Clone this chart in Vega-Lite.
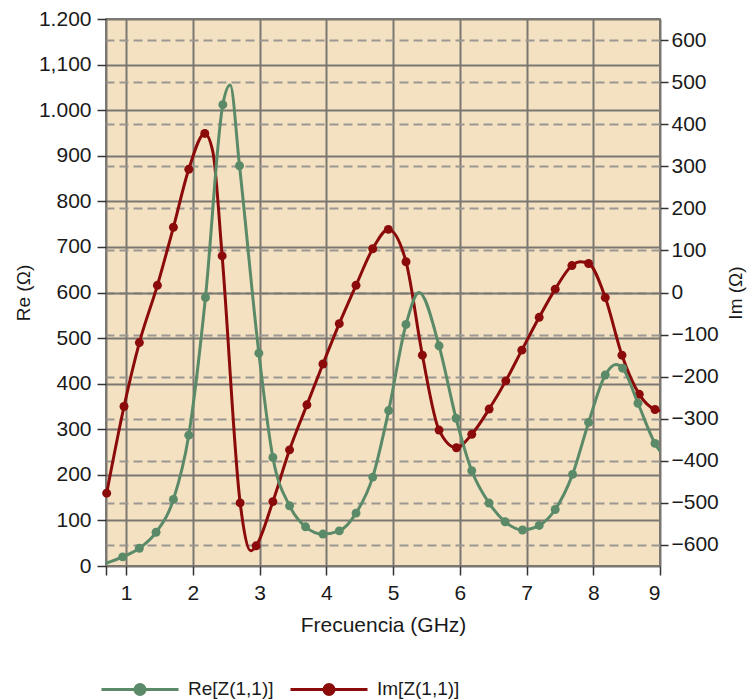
{
  "$schema": "https://vega.github.io/schema/vega-lite/v6.json",
  "width": 554,
  "height": 547,
  "autosize": {"type": "none"},
  "padding": {"left": 106, "top": 19, "right": 88, "bottom": 133},
  "background": "white",
  "config": {
    "font": "Liberation Sans",
    "view": {"fill": "#F4E1C2", "stroke": "#555555", "strokeWidth": 1.5},
    "axis": {
      "labelFont": "Liberation Sans",
      "labelFontSize": 21,
      "labelColor": "#1a1a1a",
      "titleFont": "Liberation Sans",
      "titleFontWeight": "normal",
      "titleColor": "#1a1a1a",
      "tickColor": "#333333",
      "tickWidth": 1.5,
      "tickSize": 9,
      "domain": false
    },
    "legend": {
      "labelFont": "Liberation Sans"
    }
  },
  "data": {
    "values": [
      {"s": "Re[Z(1,1)]", "f": 0.7, "v": 6, "m": 0},
      {"s": "Re[Z(1,1)]", "f": 0.95, "v": 20, "m": 1},
      {"s": "Re[Z(1,1)]", "f": 1.2, "v": 39, "m": 1},
      {"s": "Re[Z(1,1)]", "f": 1.45, "v": 74, "m": 1},
      {"s": "Re[Z(1,1)]", "f": 1.71, "v": 146, "m": 1},
      {"s": "Re[Z(1,1)]", "f": 1.94, "v": 287, "m": 1},
      {"s": "Re[Z(1,1)]", "f": 2.19, "v": 589, "m": 1},
      {"s": "Re[Z(1,1)]", "f": 2.45, "v": 1012, "m": 1},
      {"s": "Re[Z(1,1)]", "f": 2.56, "v": 1055, "m": 0},
      {"s": "Re[Z(1,1)]", "f": 2.7, "v": 878, "m": 1},
      {"s": "Re[Z(1,1)]", "f": 2.99, "v": 467, "m": 1},
      {"s": "Re[Z(1,1)]", "f": 3.2, "v": 238, "m": 1},
      {"s": "Re[Z(1,1)]", "f": 3.45, "v": 132, "m": 1},
      {"s": "Re[Z(1,1)]", "f": 3.69, "v": 86, "m": 1},
      {"s": "Re[Z(1,1)]", "f": 3.95, "v": 70, "m": 1},
      {"s": "Re[Z(1,1)]", "f": 4.195, "v": 77, "m": 1},
      {"s": "Re[Z(1,1)]", "f": 4.446, "v": 116, "m": 1},
      {"s": "Re[Z(1,1)]", "f": 4.696, "v": 195, "m": 1},
      {"s": "Re[Z(1,1)]", "f": 4.935, "v": 341, "m": 1},
      {"s": "Re[Z(1,1)]", "f": 5.195, "v": 530, "m": 1},
      {"s": "Re[Z(1,1)]", "f": 5.39, "v": 600, "m": 0},
      {"s": "Re[Z(1,1)]", "f": 5.69, "v": 483, "m": 1},
      {"s": "Re[Z(1,1)]", "f": 5.944, "v": 324, "m": 1},
      {"s": "Re[Z(1,1)]", "f": 6.18, "v": 209, "m": 1},
      {"s": "Re[Z(1,1)]", "f": 6.44, "v": 138, "m": 1},
      {"s": "Re[Z(1,1)]", "f": 6.68, "v": 97, "m": 1},
      {"s": "Re[Z(1,1)]", "f": 6.94, "v": 79, "m": 1},
      {"s": "Re[Z(1,1)]", "f": 7.19, "v": 89, "m": 1},
      {"s": "Re[Z(1,1)]", "f": 7.43, "v": 124, "m": 1},
      {"s": "Re[Z(1,1)]", "f": 7.69, "v": 201, "m": 1},
      {"s": "Re[Z(1,1)]", "f": 7.93, "v": 315, "m": 1},
      {"s": "Re[Z(1,1)]", "f": 8.18, "v": 419, "m": 1},
      {"s": "Re[Z(1,1)]", "f": 8.34, "v": 442, "m": 0},
      {"s": "Re[Z(1,1)]", "f": 8.44, "v": 434, "m": 1},
      {"s": "Re[Z(1,1)]", "f": 8.67, "v": 357, "m": 1},
      {"s": "Re[Z(1,1)]", "f": 8.925, "v": 269, "m": 1},
      {"s": "Re[Z(1,1)]", "f": 9.0, "v": 252, "m": 0},
      {"s": "Im[Z(1,1)]", "f": 0.71, "v": -477, "m": 1},
      {"s": "Im[Z(1,1)]", "f": 0.97, "v": -271, "m": 1},
      {"s": "Im[Z(1,1)]", "f": 1.2, "v": -119, "m": 1},
      {"s": "Im[Z(1,1)]", "f": 1.47, "v": 17, "m": 1},
      {"s": "Im[Z(1,1)]", "f": 1.71, "v": 155, "m": 1},
      {"s": "Im[Z(1,1)]", "f": 1.94, "v": 293, "m": 1},
      {"s": "Im[Z(1,1)]", "f": 2.18, "v": 378, "m": 1},
      {"s": "Im[Z(1,1)]", "f": 2.3, "v": 335, "m": 0},
      {"s": "Im[Z(1,1)]", "f": 2.44, "v": 87, "m": 1},
      {"s": "Im[Z(1,1)]", "f": 2.71, "v": -500, "m": 1},
      {"s": "Im[Z(1,1)]", "f": 2.87, "v": -614, "m": 0},
      {"s": "Im[Z(1,1)]", "f": 2.95, "v": -602, "m": 1},
      {"s": "Im[Z(1,1)]", "f": 3.2, "v": -497, "m": 1},
      {"s": "Im[Z(1,1)]", "f": 3.45, "v": -374, "m": 1},
      {"s": "Im[Z(1,1)]", "f": 3.71, "v": -267, "m": 1},
      {"s": "Im[Z(1,1)]", "f": 3.95, "v": -170, "m": 1},
      {"s": "Im[Z(1,1)]", "f": 4.195, "v": -74, "m": 1},
      {"s": "Im[Z(1,1)]", "f": 4.446, "v": 17, "m": 1},
      {"s": "Im[Z(1,1)]", "f": 4.696, "v": 104, "m": 1},
      {"s": "Im[Z(1,1)]", "f": 4.93, "v": 150, "m": 1},
      {"s": "Im[Z(1,1)]", "f": 5.195, "v": 73, "m": 1},
      {"s": "Im[Z(1,1)]", "f": 5.44, "v": -149, "m": 1},
      {"s": "Im[Z(1,1)]", "f": 5.69, "v": -327, "m": 1},
      {"s": "Im[Z(1,1)]", "f": 5.95, "v": -369, "m": 1},
      {"s": "Im[Z(1,1)]", "f": 6.18, "v": -337, "m": 1},
      {"s": "Im[Z(1,1)]", "f": 6.44, "v": -277, "m": 1},
      {"s": "Im[Z(1,1)]", "f": 6.69, "v": -210, "m": 1},
      {"s": "Im[Z(1,1)]", "f": 6.93, "v": -137, "m": 1},
      {"s": "Im[Z(1,1)]", "f": 7.19, "v": -59, "m": 1},
      {"s": "Im[Z(1,1)]", "f": 7.43, "v": 8, "m": 1},
      {"s": "Im[Z(1,1)]", "f": 7.68, "v": 64, "m": 1},
      {"s": "Im[Z(1,1)]", "f": 7.81, "v": 73, "m": 0},
      {"s": "Im[Z(1,1)]", "f": 7.93, "v": 69, "m": 1},
      {"s": "Im[Z(1,1)]", "f": 8.18, "v": -12, "m": 1},
      {"s": "Im[Z(1,1)]", "f": 8.43, "v": -149, "m": 1},
      {"s": "Im[Z(1,1)]", "f": 8.69, "v": -242, "m": 1},
      {"s": "Im[Z(1,1)]", "f": 8.925, "v": -278, "m": 1},
      {"s": "Im[Z(1,1)]", "f": 9.0, "v": -281, "m": 0}
    ]
  },
  "layer": [
    {
      "transform": [{"filter": "datum.s == 'Im[Z(1,1)]'"}],
      "encoding": {
        "x": {
          "field": "f", "type": "quantitative",
          "scale": {"domain": [0.7, 9], "nice": false, "zero": false},
          "axis": {
            "title": "Frecuencia (GHz)", "titleFontSize": 21, "titlePadding": 11,
            "values": [0.7, 1, 2, 3, 4, 5, 6, 7, 8, 9],
            "labelExpr": "datum.value < 1 ? '' : datum.label",
            "labelPadding": 7,
            "grid": true, "gridColor": "#7a7670", "gridWidth": 2
          }
        },
        "y": {
          "field": "v", "type": "quantitative",
          "scale": {"domain": [-650, 650], "nice": false, "zero": false},
          "axis": {
            "orient": "right", "title": "Im (Ω)", "titleFontSize": 19,
            "titleAngle": -90, "titleBaseline": "top", "titlePadding": 8,
            "values": [-600, -500, -400, -300, -200, -100, 0, 100, 200, 300, 400, 500, 600],
            "tickSize": 8, "labelPadding": 3,
            "grid": true, "gridColor": "#9a9690", "gridWidth": 2, "gridDash": [9, 5]
          }
        },
        "color": {
          "field": "s", "type": "nominal",
          "scale": {"domain": ["Re[Z(1,1)]", "Im[Z(1,1)]"], "range": ["#5a8a68", "#8b0a0a"]},
          "legend": {
            "orient": "none", "legendX": -6, "legendY": 630, "direction": "horizontal",
            "title": null,
            "symbolType": "M-1,0L1,0M-0.13,0A0.13,0.13,0,1,0,0.13,0A0.13,0.13,0,1,0,-0.13,0Z",
            "symbolSize": 5929, "symbolStrokeWidth": 3,
            "labelFontSize": 19, "labelColor": "#1a1a1a", "labelOffset": 8, "columnPadding": 10,
            "encode": {"symbols": {"update": {"fill": {"scale": "color", "field": "value"}, "stroke": {"scale": "color", "field": "value"}, "strokeWidth": {"value": 3}, "opacity": {"value": 1}}}}
          }
        }
      },
      "layer": [
        {"mark": {"type": "line", "interpolate": "monotone", "strokeWidth": 3}},
        {"transform": [{"filter": "datum.m == 1"}], "mark": {"type": "point", "filled": true, "size": 80, "opacity": 1}}
      ]
    },
    {
      "transform": [{"filter": "datum.s == 'Re[Z(1,1)]'"}],
      "encoding": {
        "x": {
          "field": "f", "type": "quantitative",
          "scale": {"domain": [0.7, 9], "nice": false, "zero": false},
          "axis": {
            "title": "Frecuencia (GHz)", "titleFontSize": 21, "titlePadding": 11,
            "values": [0.7, 1, 2, 3, 4, 5, 6, 7, 8, 9],
            "labelExpr": "datum.value < 1 ? '' : datum.label",
            "labelPadding": 7,
            "grid": true, "gridColor": "#7a7670", "gridWidth": 2
          }
        },
        "y": {
          "field": "v", "type": "quantitative",
          "scale": {"domain": [0, 1200], "nice": false, "zero": false},
          "axis": {
            "orient": "left", "title": "Re (Ω)", "titleFontSize": 19,
            "titlePadding": 5,
            "labelExpr": "datum.value == 1200 ? '1.200' : datum.value == 1100 ? '1,100' : datum.value == 1000 ? '1.000' : format(datum.value, 'd')",
            "values": [0, 100, 200, 300, 400, 500, 600, 700, 800, 900, 1000, 1100, 1200],
            "tickSize": 9, "labelPadding": 6,
            "grid": true, "gridColor": "#7a7670", "gridWidth": 2
          }
        },
        "color": {
          "field": "s", "type": "nominal",
          "scale": {"domain": ["Re[Z(1,1)]", "Im[Z(1,1)]"], "range": ["#5a8a68", "#8b0a0a"]}
        }
      },
      "layer": [
        {"mark": {"type": "line", "interpolate": "monotone", "strokeWidth": 3}},
        {"transform": [{"filter": "datum.m == 1"}], "mark": {"type": "point", "filled": true, "size": 80, "opacity": 1}}
      ]
    }
  ],
  "resolve": {"scale": {"y": "independent"}}
}
